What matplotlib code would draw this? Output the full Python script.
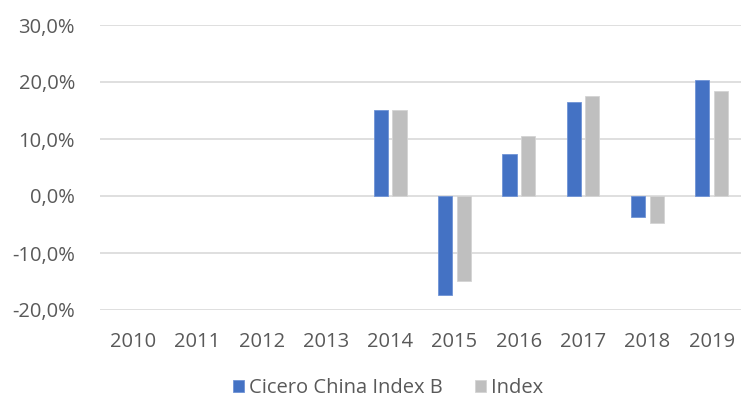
import numpy as np
import matplotlib.pyplot as plt
from matplotlib.ticker import FuncFormatter

years = ["2010", "2011", "2012", "2013", "2014", "2015", "2016", "2017", "2018", "2019"]
cicero = [np.nan, np.nan, np.nan, np.nan, 15.1, -17.4, 7.4, 16.5, -3.7, 20.3]
index = [np.nan, np.nan, np.nan, np.nan, 15.1, -14.9, 10.5, 17.5, -4.8, 18.5]

plt.rcParams["font.family"] = ["Open Sans", "DejaVu Sans"]

fig = plt.figure(figsize=(7.41, 4.01), dpi=100)
ax = fig.add_axes([100 / 741, 1 - 310 / 401, 641 / 741, 285 / 401])

x = np.arange(len(years))
w = 0.22
off = 0.145
ax.bar(x - off, cicero, width=w, color="#4472C4", edgecolor="#6f93d6",
       linewidth=0.6, label="Cicero China Index B", zorder=3)
ax.bar(x + off, index, width=w, color="#BFBFBF", edgecolor="#d4d4d4",
       linewidth=0.6, label="Index", zorder=3)

ax.set_xlim(-0.513, 9.456)
ax.set_ylim(-20, 30)
ax.set_yticks(np.arange(-20, 31, 10))
ax.yaxis.set_major_formatter(FuncFormatter(lambda v, p: f"{v:.1f}%".replace(".", ",")))
ax.set_xticks(x)
ax.set_xticklabels(years)

ax.grid(axis="y", color="#d9d9d9", linewidth=1.2, zorder=0)
for s in ax.spines.values():
    s.set_visible(False)
ax.tick_params(axis="both", length=0, labelcolor="#595959", labelsize=14.5)
ax.tick_params(axis="y", pad=18)
ax.tick_params(axis="x", pad=16)

leg = fig.legend(loc="center", bbox_to_anchor=(388 / 741, 1 - 388 / 401), ncol=2,
                 frameon=False, fontsize=14.5, handlelength=0.55, handleheight=0.55,
                 handletextpad=0.25, columnspacing=1.6)
for t in leg.get_texts():
    t.set_color("#595959")

fig.savefig("out.png", dpi=100)
